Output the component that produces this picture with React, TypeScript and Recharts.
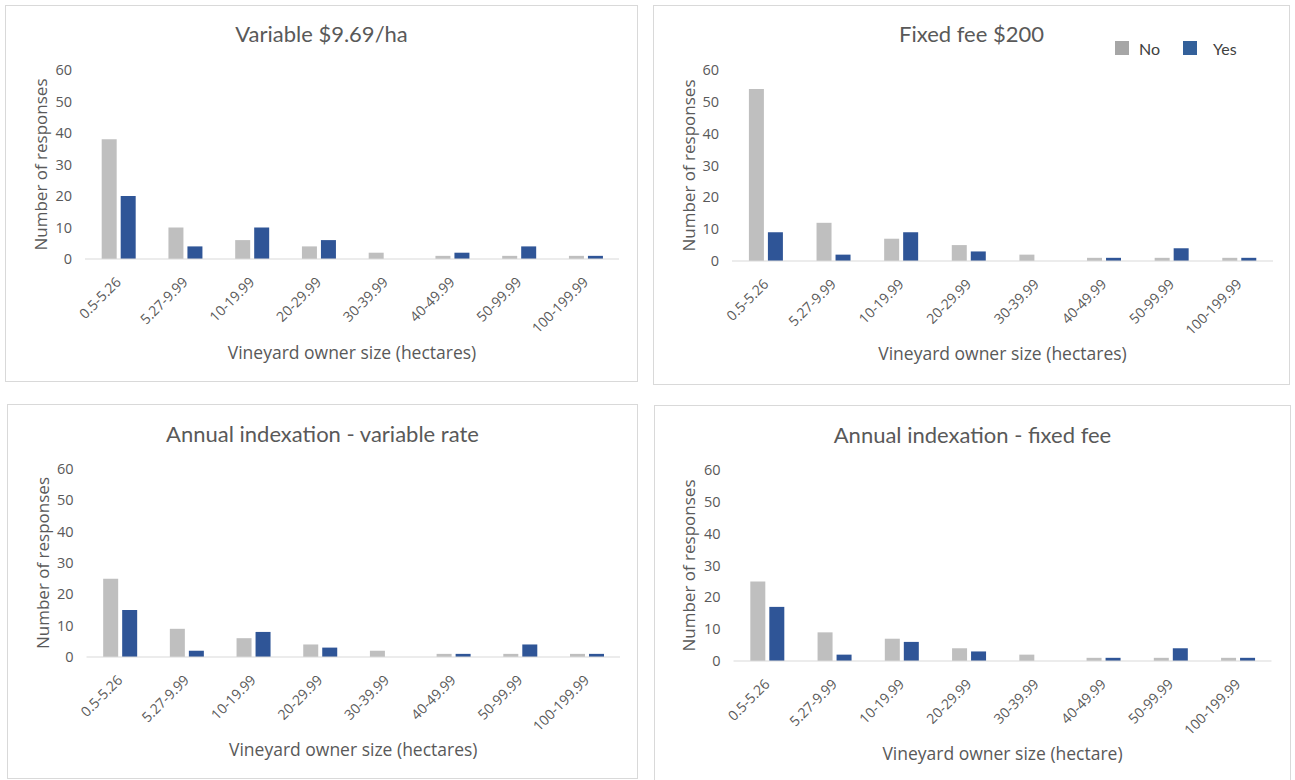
import React from 'react';
import { BarChart, Bar, XAxis, YAxis } from 'recharts';

// Size bands of vineyard owners (hectares)
const categories = ['0.5-5.26', '5.27-9.99', '10-19.99', '20-29.99', '30-39.99', '40-49.99', '50-99.99', '100-199.99'];

// Responses per pricing option: "No" and "Yes"
const variableNo = [38, 10, 6, 4, 2, 1, 1, 1];
const variableYes = [20, 4, 10, 6, 0, 2, 4, 1];
const fixedNo = [54, 12, 7, 5, 2, 1, 1, 1];
const fixedYes = [9, 2, 9, 3, 0, 1, 4, 1];
const indexVariableNo = [25, 9, 6, 4, 2, 1, 1, 1];
const indexVariableYes = [15, 2, 8, 3, 0, 1, 4, 1];
const indexFixedNo = [25, 9, 7, 4, 2, 1, 1, 1];
const indexFixedYes = [17, 2, 6, 3, 0, 1, 4, 1];

const yTicks = [0, 10, 20, 30, 40, 50, 60];

const NO_COLOR = '#bfbfbf';
const YES_COLOR = '#2f5597';
const TEXT = '#595959';
const GRID = '#d9d9d9';
const FONT = '"Open Sans", "Noto Sans", sans-serif';
const TITLE_FONT = 'Lato, "Open Sans", sans-serif';

const Y_AXIS_W = 40;
const X_AXIS_H = 70;

type Box = { l: number; t: number; w: number; h: number };
type Plot = { l: number; r: number; top: number; bottom: number };

interface PanelDef {
  title: string;
  xTitle: string;
  no: number[];
  yes: number[];
  box: Box;
  plot: Plot;
  titleY: number;
  xTitleY: number;
  yTitleX: number;
  legend?: boolean;
}

const buildRows = (no: number[], yes: number[]) =>
  categories.map((c, i) => ({ size: c, no: no[i], yes: yes[i] }));

const panels: PanelDef[] = [
  {
    title: 'Variable $9.69/ha',
    xTitle: 'Vineyard owner size (hectares)',
    no: variableNo,
    yes: variableYes,
    box: { l: 5, t: 5, w: 633, h: 377 },
    plot: { l: 85, r: 619, top: 70, bottom: 259 },
    titleY: 41.5,
    xTitleY: 352,
    yTitleX: 40,
  },
  {
    title: 'Fixed fee $200',
    xTitle: 'Vineyard owner size (hectares)',
    no: fixedNo,
    yes: fixedYes,
    box: { l: 653, t: 5, w: 637, h: 380 },
    plot: { l: 732, r: 1273, top: 70, bottom: 261 },
    titleY: 42,
    xTitleY: 352.5,
    yTitleX: 688,
    legend: true,
  },
  {
    title: 'Annual indexation - variable rate',
    xTitle: 'Vineyard owner size (hectares)',
    no: indexVariableNo,
    yes: indexVariableYes,
    box: { l: 7, t: 404, w: 631, h: 375 },
    plot: { l: 86.5, r: 620, top: 469, bottom: 657 },
    titleY: 442,
    xTitleY: 749,
    yTitleX: 42,
  },
  {
    title: 'Annual indexation - fixed fee',
    xTitle: 'Vineyard owner size (hectare)',
    no: indexFixedNo,
    yes: indexFixedYes,
    box: { l: 654, t: 405, w: 637, h: 376 },
    plot: { l: 733.5, r: 1271.5, top: 470, bottom: 661 },
    titleY: 443,
    xTitleY: 753,
    yTitleX: 688,
  },
];

// Category labels slanted at 45 degrees, ending just under the band centre
const SlantTick = (props: any) => {
  const { x, y, payload } = props;
  return (
    <g transform={`translate(${x + 3.5},${y + 24})`}>
      <text textAnchor="end" transform="rotate(-45)" fill={TEXT} fontSize={14} fontFamily={FONT}>
        {payload.value}
      </text>
    </g>
  );
};

const PanelChart = ({ p }: { p: PanelDef }) => {
  const { box, plot } = p;
  const margin = {
    top: plot.top - box.t,
    right: box.l + box.w - plot.r,
    bottom: box.t + box.h - plot.bottom - X_AXIS_H,
    left: plot.l - box.l - Y_AXIS_W,
  };
  return (
    <div style={{ position: 'absolute', left: box.l, top: box.t, width: box.w, height: box.h }}>
      <BarChart
        width={box.w}
        height={box.h}
        data={buildRows(p.no, p.yes)}
        margin={margin}
        barCategoryGap="25%"
        barGap={4}
      >
        <XAxis
          dataKey="size"
          height={X_AXIS_H}
          interval={0}
          tickLine={false}
          tickSize={0}
          tickMargin={0}
          axisLine={{ stroke: GRID, strokeWidth: 1 }}
          tick={<SlantTick />}
        />
        <YAxis
          width={Y_AXIS_W}
          domain={[0, 60]}
          ticks={yTicks}
          interval={0}
          axisLine={false}
          tickLine={false}
          tickSize={0}
          tickMargin={13}
          tick={{ fill: TEXT, fontSize: 14.5, fontFamily: FONT }}
        />
        <Bar dataKey="no" name="No" fill={NO_COLOR} isAnimationActive={false} />
        <Bar dataKey="yes" name="Yes" fill={YES_COLOR} isAnimationActive={false} />
      </BarChart>
      <div
        style={{
          position: 'absolute',
          left: 0,
          top: 0,
          width: box.w,
          height: box.h,
          boxSizing: 'border-box',
          border: `1px solid ${GRID}`,
          pointerEvents: 'none',
        }}
      />
    </div>
  );
};

const Labels = () => (
  <svg
    width={1295}
    height={780}
    style={{ position: 'absolute', left: 0, top: 0, pointerEvents: 'none' }}
  >
    {panels.map((p) => {
      const cx = p.box.l + p.box.w / 2;
      const px = (p.plot.l + p.plot.r) / 2;
      const py = (p.plot.top + p.plot.bottom) / 2;
      return (
        <g key={p.title}>
          <text x={cx} y={p.titleY} textAnchor="middle" fill={TEXT} fontSize={22} fontFamily={TITLE_FONT}>
            {p.title}
          </text>
          <text
            x={px}
            y={p.xTitleY}
            textAnchor="middle"
            dominantBaseline="central"
            fill={TEXT}
            fontSize={17.5}
            fontFamily={FONT}
          >
            {p.xTitle}
          </text>
          <text
            x={p.yTitleX}
            y={py}
            textAnchor="middle"
            dominantBaseline="central"
            transform={`rotate(-90, ${p.yTitleX}, ${py})`}
            fill={TEXT}
            fontSize={17}
            fontFamily={FONT}
          >
            Number of responses
          </text>
          {p.legend && (
            <g fontFamily={TITLE_FONT} fontSize={16} fill="#404040">
              <rect x={1115} y={41} width={14} height={14} fill="#a6a6a6" />
              <text x={1139} y={48.5} dominantBaseline="central">No</text>
              <rect x={1183} y={41} width={14} height={14} fill="#33609a" />
              <text x={1213} y={48.5} dominantBaseline="central">Yes</text>
            </g>
          )}
        </g>
      );
    })}
  </svg>
);

export default function App() {
  return (
    <div
      style={{
        position: 'absolute',
        left: 0,
        top: 0,
        width: 1295,
        height: 780,
        background: '#ffffff',
        overflow: 'hidden',
      }}
    >
      {panels.map((p) => (
        <PanelChart key={p.title} p={p} />
      ))}
      <Labels />
    </div>
  );
}
